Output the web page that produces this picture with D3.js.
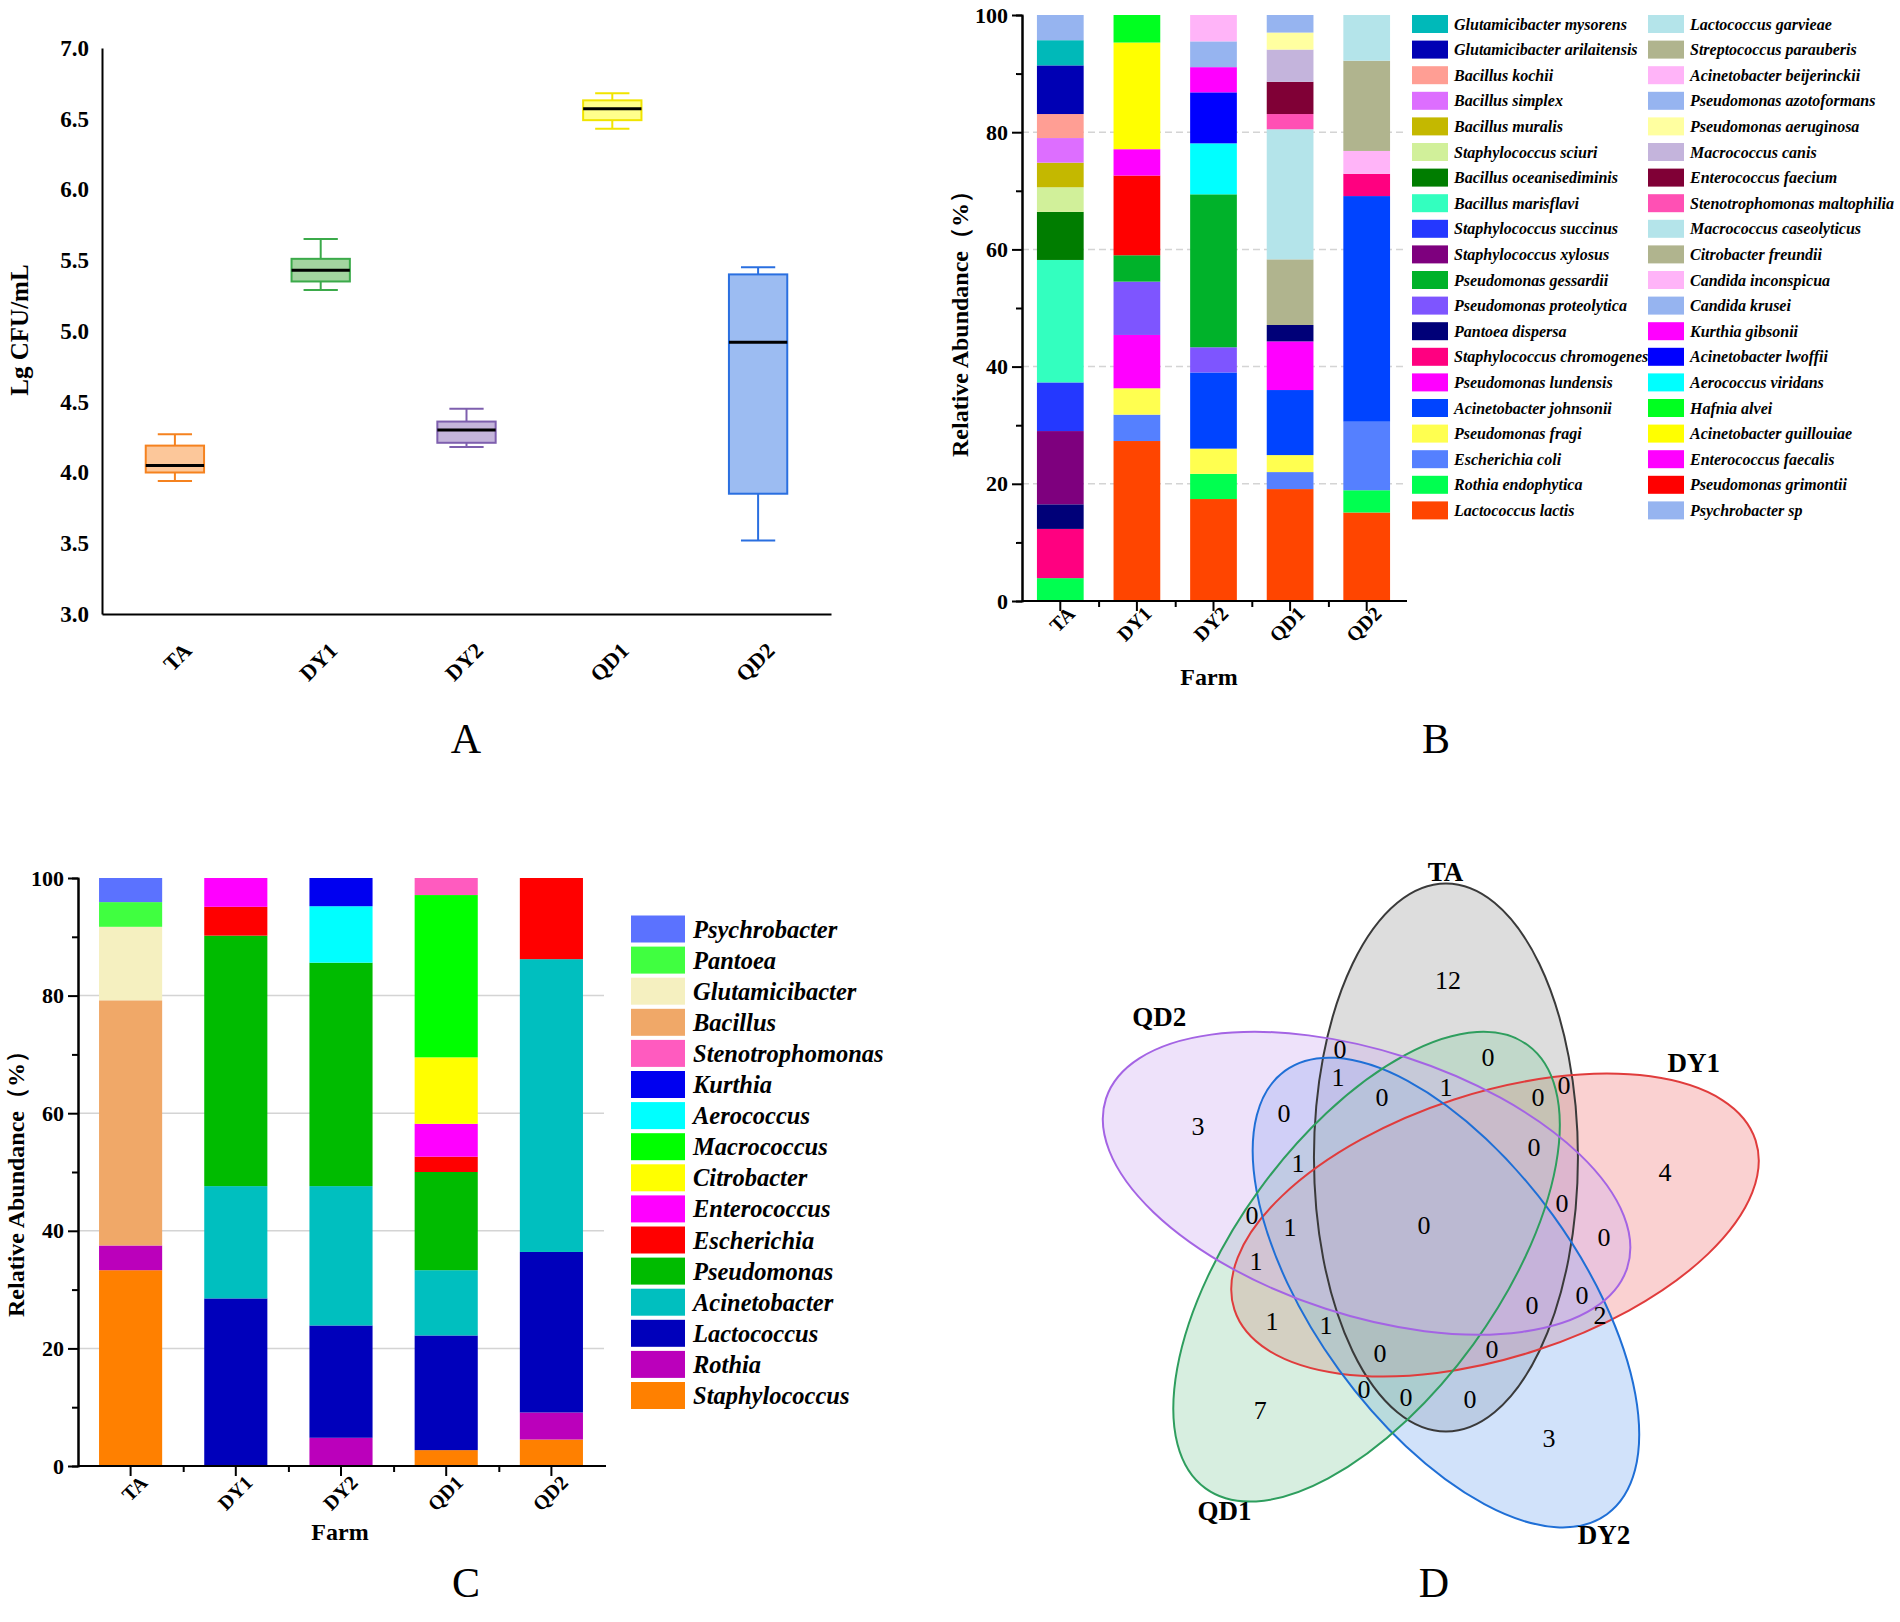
<!DOCTYPE html>
<html>
<head>
<meta charset="utf-8">
<script src="https://cdn.jsdelivr.net/npm/d3@7"></script>
<style>
  body { margin: 0; background: #fff; }
  text { font-family: "Times New Roman", "Liberation Serif", serif; }
</style>
</head>
<body>
<div id="fig"></div>
<script>
// ---------------- data ----------------
const FARMS = ["TA", "DY1", "DY2", "QD1", "QD2"];

// panel A : box plot, Lg CFU/mL
const BOX_MIN = [3.94, 5.29, 4.18, 6.43, 3.52];
const BOX_Q1  = [4.00, 5.35, 4.21, 6.49, 3.85];
const BOX_MED = [4.05, 5.43, 4.30, 6.57, 4.92];
const BOX_Q3  = [4.19, 5.51, 4.36, 6.63, 5.40];
const BOX_MAX = [4.27, 5.65, 4.45, 6.68, 5.45];
const BOX_STROKE = ["#f5821f", "#3baa4a", "#7e5fae", "#f0e400", "#2a6fe0"];
const BOX_FILL   = ["#fcc79a", "#a3d4a0", "#c5b5db", "#ffff8c", "#9cbcf2"];
const A_TICKS = [3.0, 3.5, 4.0, 4.5, 5.0, 5.5, 6.0, 6.5, 7.0];

// panel B : species, legend columns top to bottom
const SPECIES_COL1 = ["Glutamicibacter mysorens", "Glutamicibacter arilaitensis", "Bacillus kochii",
  "Bacillus simplex", "Bacillus muralis", "Staphylococcus sciuri", "Bacillus oceanisediminis",
  "Bacillus marisflavi", "Staphylococcus succinus", "Staphylococcus xylosus", "Pseudomonas gessardii",
  "Pseudomonas proteolytica", "Pantoea dispersa", "Staphylococcus chromogenes", "Pseudomonas lundensis",
  "Acinetobacter johnsonii", "Pseudomonas fragi", "Escherichia coli", "Rothia endophytica", "Lactococcus lactis"];
const SPECIES_COL1_COLORS = ["#00b9b9", "#0000b4", "#ff9e94", "#dd6eff", "#c4b800", "#d1f09a", "#007d00",
  "#33ffbf", "#2438ff", "#7e007e", "#00b22a", "#7e55ff", "#000078", "#ff0080", "#ff00ff",
  "#0044ff", "#ffff50", "#5580ff", "#00ff50", "#ff4500"];
const SPECIES_COL2 = ["Lactococcus garvieae", "Streptococcus parauberis", "Acinetobacter beijerinckii",
  "Pseudomonas azotoformans", "Pseudomonas aeruginosa", "Macrococcus canis", "Enterococcus faecium",
  "Stenotrophomonas maltophilia", "Macrococcus caseolyticus", "Citrobacter freundii", "Candida inconspicua",
  "Candida krusei", "Kurthia gibsonii", "Acinetobacter lwoffii", "Aerococcus viridans", "Hafnia alvei",
  "Acinetobacter guillouiae", "Enterococcus faecalis", "Pseudomonas grimontii", "Psychrobacter sp"];
const SPECIES_COL2_COLORS = ["#b4e4ea", "#b0b48e", "#ffb4f8", "#96b4f0", "#ffffa0", "#c4b4dc", "#800036",
  "#ff50b4", "#b4e4ea", "#b0b48e", "#ffb4f8", "#96b4f0", "#ff00ff", "#0000ff", "#00ffff",
  "#00ff20", "#ffff00", "#ff00ff", "#ff0000", "#96b4f0"];

// panel B : relative abundance (%) of species per farm
const SPECIES_TA = [["Rothia endophytica", 3.9], ["Staphylococcus chromogenes", 8.4], ["Pantoea dispersa", 4.2],
  ["Staphylococcus xylosus", 12.5], ["Staphylococcus succinus", 8.3], ["Bacillus marisflavi", 20.9],
  ["Bacillus oceanisediminis", 8.2], ["Staphylococcus sciuri", 4.2], ["Bacillus muralis", 4.2],
  ["Bacillus simplex", 4.2], ["Bacillus kochii", 4.1], ["Glutamicibacter arilaitensis", 8.3],
  ["Glutamicibacter mysorens", 4.3], ["Psychrobacter sp", 4.3]];
const SPECIES_DY1 = [["Lactococcus lactis", 27.3], ["Escherichia coli", 4.5], ["Pseudomonas fragi", 4.5],
  ["Pseudomonas lundensis", 9.1], ["Pseudomonas proteolytica", 9.1], ["Pseudomonas gessardii", 4.5],
  ["Pseudomonas grimontii", 13.6], ["Enterococcus faecalis", 4.5], ["Acinetobacter guillouiae", 18.2],
  ["Hafnia alvei", 4.7]];
const SPECIES_DY2 = [["Lactococcus lactis", 17.4], ["Rothia endophytica", 4.3], ["Pseudomonas fragi", 4.3],
  ["Acinetobacter johnsonii", 13.0], ["Pseudomonas proteolytica", 4.3], ["Pseudomonas gessardii", 26.1],
  ["Aerococcus viridans", 8.7], ["Acinetobacter lwoffii", 8.7], ["Kurthia gibsonii", 4.3],
  ["Candida krusei", 4.4], ["Candida inconspicua", 4.5]];
const SPECIES_QD1 = [["Lactococcus lactis", 19.1], ["Escherichia coli", 2.9], ["Pseudomonas fragi", 2.9],
  ["Acinetobacter johnsonii", 11.1], ["Pseudomonas lundensis", 8.3], ["Pantoea dispersa", 2.8],
  ["Citrobacter freundii", 11.2], ["Macrococcus caseolyticus", 22.2], ["Stenotrophomonas maltophilia", 2.6],
  ["Enterococcus faecium", 5.5], ["Macrococcus canis", 5.5], ["Pseudomonas aeruginosa", 2.9],
  ["Pseudomonas azotoformans", 3.0]];
const SPECIES_QD2 = [["Lactococcus lactis", 15.1], ["Rothia endophytica", 3.8], ["Escherichia coli", 11.7],
  ["Acinetobacter johnsonii", 38.5], ["Staphylococcus chromogenes", 3.8], ["Acinetobacter beijerinckii", 3.9],
  ["Streptococcus parauberis", 15.4], ["Lactococcus garvieae", 7.8]];

// panel C : genera, legend top to bottom
const GENERA = ["Psychrobacter", "Pantoea", "Glutamicibacter", "Bacillus", "Stenotrophomonas", "Kurthia",
  "Aerococcus", "Macrococcus", "Citrobacter", "Enterococcus", "Escherichia", "Pseudomonas",
  "Acinetobacter", "Lactococcus", "Rothia", "Staphylococcus"];
const GENERA_COLORS = ["#5b72ff", "#40ff40", "#f5f0c0", "#f0a868", "#ff5bbf", "#0000f0", "#00ffff",
  "#00ff00", "#ffff00", "#ff00ff", "#ff0000", "#00bb00", "#00bfbf", "#0000bb", "#bb00bb", "#ff8000"];
const GENUS_TA  = [["Staphylococcus", 33.3], ["Rothia", 4.2], ["Bacillus", 41.7], ["Glutamicibacter", 12.5],
  ["Pantoea", 4.2], ["Psychrobacter", 4.1]];
const GENUS_DY1 = [["Lactococcus", 28.5], ["Acinetobacter", 19.1], ["Pseudomonas", 42.6], ["Escherichia", 4.9],
  ["Enterococcus", 4.9]];
const GENUS_DY2 = [["Rothia", 4.8], ["Lactococcus", 19.1], ["Acinetobacter", 23.7], ["Pseudomonas", 38.0],
  ["Aerococcus", 9.6], ["Kurthia", 4.8]];
const GENUS_QD1 = [["Staphylococcus", 2.7], ["Lactococcus", 19.5], ["Acinetobacter", 11.1], ["Pseudomonas", 16.7],
  ["Escherichia", 2.6], ["Enterococcus", 5.6], ["Citrobacter", 11.3], ["Macrococcus", 27.6],
  ["Stenotrophomonas", 2.9]];
const GENUS_QD2 = [["Staphylococcus", 4.5], ["Rothia", 4.6], ["Lactococcus", 27.3], ["Acinetobacter", 49.8],
  ["Escherichia", 13.8]];

// panel D : Venn
const VENN_SETS = ["TA", "DY1", "DY2", "QD1", "QD2"];
const VENN_FILL = ["#a0a0a0", "#f08080", "#7fb0f0", "#8fd0a8", "#d0b0f0"];
const VENN_STROKE = ["#3a3a3a", "#e03c3c", "#1f6fd6", "#2e9e5e", "#a464e4"];
const VENN_REGIONS = ["TA", "DY1", "DY2", "QD1", "QD2",
  "TA+DY1", "TA+DY2", "TA+QD1", "TA+QD2", "DY1+DY2", "DY1+QD1", "DY1+QD2", "DY2+QD1", "DY2+QD2", "QD1+QD2",
  "TA+DY1+DY2", "TA+DY1+QD1", "TA+DY1+QD2", "TA+DY2+QD1", "TA+DY2+QD2", "TA+QD1+QD2",
  "DY1+DY2+QD1", "DY1+DY2+QD2", "DY1+QD1+QD2", "DY2+QD1+QD2",
  "TA+DY1+DY2+QD1", "TA+DY1+DY2+QD2", "TA+DY1+QD1+QD2", "TA+DY2+QD1+QD2", "DY1+DY2+QD1+QD2",
  "TA+DY1+DY2+QD1+QD2"];
const VENN_COUNTS = [12, 4, 3, 7, 3,
  0, 0, 0, 0, 2, 1, 0, 0, 0, 0,
  0, 0, 0, 0, 1, 1,
  1, 0, 1, 1,
  0, 0, 0, 0, 1,
  0];

// ---------------- frame ----------------
const WIDTH = 1900, HEIGHT = 1622;
const SVG = d3.select("#fig").append("svg")
  .attr("width", WIDTH).attr("height", HEIGHT)
  .style("background", "#fff");

function styleAxis(g, size) {
  g.select(".domain").attr("stroke", "#000").attr("stroke-width", 2);
  g.selectAll(".tick line").attr("stroke", "#000").attr("stroke-width", 2);
  g.selectAll(".tick text").attr("font-size", size).attr("font-weight", "bold").attr("fill", "#000")
    .attr("font-family", "'Times New Roman','Liberation Serif',serif");
}

function rotateLabels(g, dx, dy) {
  g.selectAll(".tick text")
    .attr("x", null).attr("y", null).attr("dy", null)
    .attr("text-anchor", "end")
    .attr("transform", "translate(" + dx + "," + dy + ") rotate(-45)");
}

function panelLetter(txt, x, y) {
  SVG.append("text").attr("x", x).attr("y", y).attr("text-anchor", "middle")
    .attr("font-size", 42).text(txt);
}

// ---------------- panel A ----------------
const A = {left: 102, right: 831, top: 48, bottom: 614};
const X_A = d3.scaleBand().domain(FARMS).range([A.left, A.right]);
const Y_A = d3.scaleLinear().domain([3, 7]).range([A.bottom, A.top]);

const axA_y = SVG.append("g").attr("transform", "translate(" + A.left + ",0)")
  .call(d3.axisLeft(Y_A).tickValues(A_TICKS).tickFormat(d3.format(".1f")).tickSize(0).tickPadding(13));
styleAxis(axA_y, 23);
const axA_x = SVG.append("g").attr("transform", "translate(0," + A.bottom + ")")
  .call(d3.axisBottom(X_A).tickSize(0));
styleAxis(axA_x, 22);
rotateLabels(axA_x, 18, 38);

SVG.append("text").attr("transform", "translate(28,330) rotate(-90)")
  .attr("text-anchor", "middle").attr("font-size", 25).attr("font-weight", "bold").text("Lg CFU/mL");

const BOX_W = X_A.bandwidth() * 0.4;
const CAP_W = X_A.bandwidth() * 0.235;
FARMS.forEach((f, i) => {
  const cx = X_A(f) + X_A.bandwidth() / 2;
  const g = SVG.append("g");
  g.append("line").attr("x1", cx).attr("x2", cx).attr("y1", Y_A(BOX_MAX[i])).attr("y2", Y_A(BOX_Q3[i]))
    .attr("stroke", BOX_STROKE[i]).attr("stroke-width", 2);
  g.append("line").attr("x1", cx).attr("x2", cx).attr("y1", Y_A(BOX_Q1[i])).attr("y2", Y_A(BOX_MIN[i]))
    .attr("stroke", BOX_STROKE[i]).attr("stroke-width", 2);
  [BOX_MAX[i], BOX_MIN[i]].forEach(v => {
    g.append("line").attr("x1", cx - CAP_W / 2).attr("x2", cx + CAP_W / 2).attr("y1", Y_A(v)).attr("y2", Y_A(v))
      .attr("stroke", BOX_STROKE[i]).attr("stroke-width", 2);
  });
  g.append("rect").attr("x", cx - BOX_W / 2).attr("width", BOX_W)
    .attr("y", Y_A(BOX_Q3[i])).attr("height", Y_A(BOX_Q1[i]) - Y_A(BOX_Q3[i]))
    .attr("fill", BOX_FILL[i]).attr("stroke", BOX_STROKE[i]).attr("stroke-width", 2);
  g.append("line").attr("x1", cx - BOX_W / 2).attr("x2", cx + BOX_W / 2)
    .attr("y1", Y_A(BOX_MED[i])).attr("y2", Y_A(BOX_MED[i]))
    .attr("stroke", "#000").attr("stroke-width", 3);
});
panelLetter("A", 466, 753);

// ---------------- stacked bar helper ----------------
function stackedPanel(P, rowsByFarm, keys, colorOf, gridDash, labelShift) {
  const X = d3.scaleBand().domain(FARMS).range([P.left, P.right]).paddingInner(P.pad).paddingOuter(P.pad / 2);
  const Y = d3.scaleLinear().domain([0, 100]).range([P.bottom, P.top]);

  // grid
  SVG.append("g").selectAll("line").data([20, 40, 60, 80]).join("line")
    .attr("x1", P.left).attr("x2", P.right).attr("y1", d => Y(d)).attr("y2", d => Y(d))
    .attr("stroke", "#d4d4d4").attr("stroke-width", 1.5).attr("stroke-dasharray", gridDash);

  const table = FARMS.map((f, i) => {
    const row = {farm: f};
    keys.forEach(k => row[k] = 0);
    rowsByFarm[i].forEach(([k, v]) => row[k] = v);
    return row;
  });
  const series = d3.stack().keys(keys)(table);
  SVG.append("g").selectAll("g").data(series).join("g")
    .attr("fill", d => colorOf(d.key))
    .selectAll("rect").data(d => d.filter(s => s[1] - s[0] > 0)).join("rect")
    .attr("x", d => X(d.data.farm)).attr("width", X.bandwidth())
    .attr("y", d => Y(d[1])).attr("height", d => Y(d[0]) - Y(d[1]));

  // axes
  const yMinor = SVG.append("g").attr("transform", "translate(" + P.left + ",0)")
    .call(d3.axisLeft(Y).tickValues([10, 30, 50, 70, 90]).tickSize(6).tickFormat(""));
  styleAxis(yMinor, 0);
  const yMajor = SVG.append("g").attr("transform", "translate(" + P.left + ",0)")
    .call(d3.axisLeft(Y).tickValues([0, 20, 40, 60, 80, 100]).tickSize(10).tickPadding(4).tickSizeOuter(0));
  styleAxis(yMajor, P.tick);

  const bounds = FARMS.slice(1).map(f => X(f) - X.step() * P.pad / 2);
  const xMinor = SVG.append("g").attr("transform", "translate(0," + P.bottom + ")")
    .call(d3.axisBottom(d3.scaleLinear().domain([P.left, P.right]).range([P.left, P.right]))
      .tickValues(bounds).tickSize(6).tickFormat(""));
  styleAxis(xMinor, 0);
  xMinor.select(".domain").remove();
  const xMajor = SVG.append("g").attr("transform", "translate(0," + P.bottom + ")")
    .call(d3.axisBottom(X).tickSize(10).tickSizeOuter(0));
  styleAxis(xMajor, P.tick - 2);
  xMajor.select(".domain").attr("d", "M" + P.left + ",0H" + (P.right + 2));
  rotateLabels(xMajor, labelShift[0], labelShift[1]);
}

// ---------------- panel B ----------------
const B = {left: 1022, right: 1405, top: 15, bottom: 601, pad: 0.39, tick: 22};
const B_KEYS = SPECIES_COL1.slice().reverse().concat(SPECIES_COL2.slice().reverse());
const B_COLOR = new Map();
SPECIES_COL1.forEach((s, i) => B_COLOR.set(s, SPECIES_COL1_COLORS[i]));
SPECIES_COL2.forEach((s, i) => B_COLOR.set(s, SPECIES_COL2_COLORS[i]));
stackedPanel(B, [SPECIES_TA, SPECIES_DY1, SPECIES_DY2, SPECIES_QD1, SPECIES_QD2], B_KEYS,
  k => B_COLOR.get(k), "7,4", [16, 14]);

SVG.append("text").attr("transform", "translate(968,318) rotate(-90)")
  .attr("text-anchor", "middle").attr("font-size", 24).attr("font-weight", "bold").text("Relative Abundance（%）");
SVG.append("text").attr("x", 1209).attr("y", 685).attr("text-anchor", "middle")
  .attr("font-size", 24).attr("font-weight", "bold").text("Farm");

[[SPECIES_COL1, SPECIES_COL1_COLORS, 1412], [SPECIES_COL2, SPECIES_COL2_COLORS, 1648]].forEach(([names, cols, x0]) => {
  const lg = SVG.append("g").selectAll("g").data(names).join("g")
    .attr("transform", (d, i) => "translate(" + x0 + "," + (24 + i * 25.6) + ")");
  lg.append("rect").attr("x", 0).attr("y", -9).attr("width", 36).attr("height", 18)
    .attr("fill", (d, i) => cols[i]);
  lg.append("text").attr("x", 42).attr("y", 0).attr("dy", "0.35em")
    .attr("font-size", 16).attr("font-weight", "bold").attr("font-style", "italic").text(d => d);
});
panelLetter("B", 1436, 753);

// ---------------- panel C ----------------
const C = {left: 78, right: 604, top: 878, bottom: 1466, pad: 0.4, tick: 22};
const C_KEYS = GENERA.slice().reverse();
const C_COLOR = new Map(GENERA.map((g, i) => [g, GENERA_COLORS[i]]));
stackedPanel(C, [GENUS_TA, GENUS_DY1, GENUS_DY2, GENUS_QD1, GENUS_QD2], C_KEYS,
  k => C_COLOR.get(k), null, [18, 18]);

SVG.append("text").attr("transform", "translate(24,1178) rotate(-90)")
  .attr("text-anchor", "middle").attr("font-size", 24).attr("font-weight", "bold").text("Relative Abundance（%）");
SVG.append("text").attr("x", 340).attr("y", 1540).attr("text-anchor", "middle")
  .attr("font-size", 24).attr("font-weight", "bold").text("Farm");

const lgC = SVG.append("g").selectAll("g").data(GENERA).join("g")
  .attr("transform", (d, i) => "translate(631," + (929 + i * 31.1) + ")");
lgC.append("rect").attr("x", 0).attr("y", -13.5).attr("width", 54).attr("height", 27)
  .attr("fill", (d, i) => GENERA_COLORS[i]);
lgC.append("text").attr("x", 62).attr("y", 0).attr("dy", "0.35em")
  .attr("font-size", 24.5).attr("font-weight", "bold").attr("font-style", "italic").text(d => d);
panelLetter("C", 466, 1597);

// ---------------- panel D : 5-set Venn ----------------
const V = {cx: 1424, cy: 1225, r: 71, a: 274, b: 132};
const ELLIPSES = VENN_SETS.map((s, i) => {
  const th = (-72 + 72 * i) * Math.PI / 180;
  const rot = -72 + 72 * i + 162;
  return {name: s, cx: V.cx + V.r * Math.cos(th), cy: V.cy + V.r * Math.sin(th),
          rot: rot, rad: rot * Math.PI / 180, fill: VENN_FILL[i], stroke: VENN_STROKE[i]};
});

const gD = SVG.append("g");
gD.selectAll("ellipse.fill").data(ELLIPSES).join("ellipse").attr("class", "fill")
  .attr("transform", d => "translate(" + d.cx + "," + d.cy + ") rotate(" + d.rot + ")")
  .attr("rx", V.a).attr("ry", V.b).attr("fill", d => d.fill).attr("fill-opacity", 0.36);
gD.selectAll("ellipse.edge").data(ELLIPSES).join("ellipse").attr("class", "edge")
  .attr("transform", d => "translate(" + d.cx + "," + d.cy + ") rotate(" + d.rot + ")")
  .attr("rx", V.a).attr("ry", V.b).attr("fill", "none").attr("stroke", d => d.stroke).attr("stroke-width", 2);

// place each count at the deepest point of its region (centroid for the single-set regions)
function ellipseInfo(e, x, y) {
  const dx = x - e.cx, dy = y - e.cy, c = Math.cos(e.rad), s = Math.sin(e.rad);
  const u = dx * c + dy * s, v = -dx * s + dy * c;
  const f = u * u / (V.a * V.a) + v * v / (V.b * V.b);
  const g = 2 * Math.sqrt(u * u / Math.pow(V.a, 4) + v * v / Math.pow(V.b, 4)) + 1e-9;
  return {inside: f < 1, dist: Math.abs(f - 1) / g};
}
const best = new Map();
const sums = new Map();
for (let x = V.cx - 420; x <= V.cx + 420; x += 2) {
  for (let y = V.cy - 420; y <= V.cy + 420; y += 2) {
    const parts = [];
    let depth = Infinity;
    ELLIPSES.forEach(e => {
      const info = ellipseInfo(e, x, y);
      if (info.inside) parts.push(e.name);
      depth = Math.min(depth, info.dist);
    });
    if (!parts.length) continue;
    const key = parts.join("+");
    if (!best.has(key) || best.get(key).depth < depth) best.set(key, {x: x, y: y, depth: depth});
    const s = sums.get(key) || {x: 0, y: 0, n: 0};
    s.x += x; s.y += y; s.n += 1;
    sums.set(key, s);
  }
}
function labelPos(key) {
  if (key.indexOf("+") < 0) {
    const s = sums.get(key);
    return [s.x / s.n, s.y / s.n];
  }
  return [best.get(key).x, best.get(key).y];
}
gD.selectAll("text.count").data(VENN_REGIONS).join("text").attr("class", "count")
  .attr("x", d => labelPos(d)[0]).attr("y", d => labelPos(d)[1])
  .attr("text-anchor", "middle").attr("dy", "0.35em").attr("font-size", 26)
  .text((d, i) => VENN_COUNTS[i]);

// set names around the diagram (angle in degrees, distance from centre)
const SET_LABEL_POS = [[-86.5, 354], [-31.1, 315], [59.8, 358], [125, 348], [-141.8, 337]];
gD.selectAll("text.set").data(VENN_SETS).join("text").attr("class", "set")
  .attr("x", (d, i) => V.cx + SET_LABEL_POS[i][1] * Math.cos(SET_LABEL_POS[i][0] * Math.PI / 180))
  .attr("y", (d, i) => V.cy + SET_LABEL_POS[i][1] * Math.sin(SET_LABEL_POS[i][0] * Math.PI / 180))
  .attr("text-anchor", "middle").attr("dy", "0.35em").attr("font-size", 27).attr("font-weight", "bold")
  .text(d => d);
panelLetter("D", 1434, 1597);
</script>
</body>
</html>
